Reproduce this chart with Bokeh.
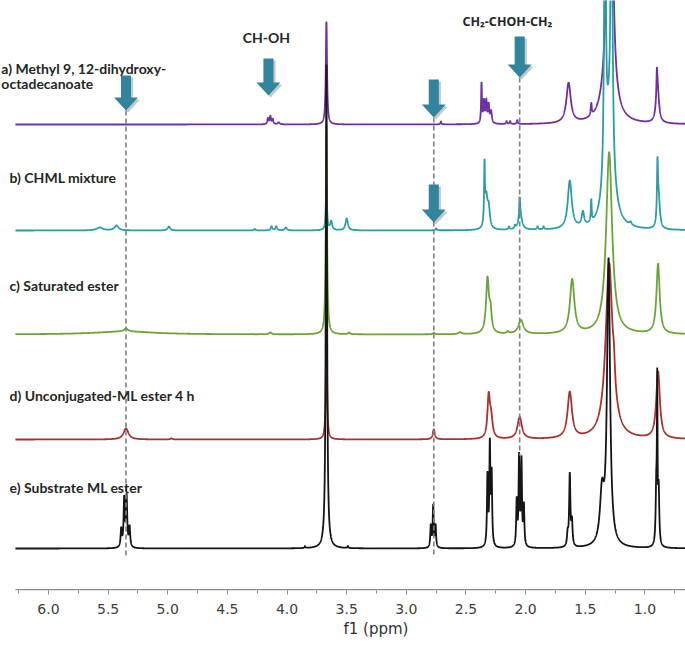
import numpy as np
from bokeh.plotting import figure
from bokeh.models import Range1d, Label, SingleIntervalTicker, NumeralTickFormatter, Title
from bokeh.embed import file_html
from bokeh.resources import INLINE

# ---------------- data (peak lists) ----------------
# a) Methyl 9,12-dihydroxy-octadecanoate (purple)
a_ppm = [4.16, 4.14, 4.12, 4.07, 3.67, 2.71, 2.37, 2.35, 2.33, 2.31, 2.29, 2.16, 2.13, 2.07, 1.64, 1.45, 1.30, 1.27, 0.90, 0.895]
a_height = [6, 8, 5, 2, 103, 3, 40, 22, 22, 18, 12, 3, 3, 4, 40, 12, 230, 60, 22, 38]
a_width = [0.006, 0.006, 0.006, 0.01, 0.006, 0.004, 0.004, 0.006, 0.006, 0.006, 0.008, 0.005, 0.005, 0.005, 0.022, 0.005, 0.03, 0.015, 0.004, 0.014]

# b) CHML mixture (teal)
b_ppm = [5.57, 5.43, 4.99, 4.27, 4.13, 4.09, 4.01, 3.67, 3.63, 3.50, 2.75, 2.345, 2.33, 2.31, 2.14, 2.09, 2.05, 2.045, 1.90, 1.85, 1.63, 1.52, 1.45, 1.335, 1.30, 1.28, 1.12, 0.895, 0.885]
b_height = [3, 5, 4, 1.5, 4, 4, 3, 42, 9, 12, 2, 58, 30, 20, 3, 3, 20, 14, 3, 3, 48, 14, 22, 320, 100, 330, 3, 55, 30]
b_width = [0.03, 0.02, 0.012, 0.006, 0.008, 0.008, 0.01, 0.006, 0.01, 0.012, 0.006, 0.004, 0.012, 0.012, 0.006, 0.006, 0.005, 0.018, 0.006, 0.006, 0.02, 0.012, 0.004, 0.008, 0.04, 0.008, 0.01, 0.005, 0.012]

# c) Saturated ester (green)
c_ppm = [5.36, 5.35, 4.14, 3.67, 3.48, 2.77, 2.55, 2.32, 2.295, 2.15, 2.04, 1.61, 1.30, 0.89]
c_height = [3, 3, 2, 211, 1.5, 1.5, 2, 54, 20, 2, 14, 54, 182, 70]
c_width = [0.3, 0.02, 0.01, 0.006, 0.01, 0.008, 0.015, 0.014, 0.012, 0.01, 0.025, 0.022, 0.03, 0.016]

# d) Unconjugated-ML ester 4 h (red)
d_ppm = [5.35, 4.97, 3.67, 2.77, 2.31, 2.29, 2.05, 1.63, 1.30, 1.26, 0.89]
d_height = [11, 1, 104, 10, 40, 20, 22, 46, 175, 20, 67]
d_width = [0.025, 0.01, 0.006, 0.01, 0.012, 0.015, 0.022, 0.022, 0.035, 0.01, 0.018]

# e) Substrate ML ester (black)
e_ppm = [5.39, 5.365, 5.345, 5.32, 3.85, 3.67, 3.49, 2.795, 2.775, 2.755, 2.32, 2.30, 2.285,
         2.075, 2.055, 2.035, 2.015, 1.648, 1.63, 1.612, 1.36, 1.305, 0.905, 0.897, 0.885]
e_height = [18, 48, 50, 20, 2, 485, 2, 22, 42, 22, 70, 100, 70,
            45, 88, 85, 40, 12, 72, 24, 50, 285, 55, 150, 55]
e_width = [0.006, 0.006, 0.006, 0.006, 0.004, 0.006, 0.004, 0.005, 0.005, 0.005, 0.005, 0.005, 0.005,
           0.005, 0.005, 0.005, 0.005, 0.006, 0.006, 0.006, 0.02, 0.015, 0.006, 0.003, 0.006]

labels = ["a) Methyl 9, 12-dihydroxy-", "b) CHML mixture", "c) Saturated ester",
          "d) Unconjugated-ML ester 4 h", "e) Substrate ML ester"]

# marked signals (arrows) and guide lines
arrow_ppm = [5.35, 4.156, 2.77, 2.05, 2.77]
guide_ppm = [5.35, 2.77, 2.05]

# ---------------- layout / style ----------------
X_START, X_END = 6.402, 0.66     # visible axis window
SPEC_START = 6.277               # spectra (and axis line) start here
offsets = [466, 360, 256, 151, 42]
colors = ["#7030A0", "#2A9EA0", "#6BA539", "#A83232", "#151515"]
arrow_tip = [480, 495, 473, 513, 368]
arrow_shaft = [22, 24, 25, 28, 25]
guide_top = [480, 473, 513]
guide_bottom = [35, 35, 135]

p = figure(width=685, height=648, x_range=Range1d(X_START, X_END), y_range=Range1d(0, 590),
           output_backend="svg", toolbar_location=None,
           min_border_left=0, min_border_right=0, min_border_top=0, min_border_bottom=58)
p.outline_line_color = None
p.grid.visible = False
p.yaxis.visible = False
p.background_fill_color = "white"
p.border_fill_color = "white"

x = np.linspace(SPEC_START, X_END, 6000)


def spectrum(pos, hts, wds):
    y = np.zeros_like(x)
    for p0, h, w in zip(pos, hts, wds):
        y += h * w * w / ((x - p0) ** 2 + w * w)
    return y


peaklists = [(a_ppm, a_height, a_width), (b_ppm, b_height, b_width), (c_ppm, c_height, c_width),
             (d_ppm, d_height, d_width), (e_ppm, e_height, e_width)]
for (pos, hts, wds), off, col in zip(peaklists, offsets, colors):
    p.line(x, spectrum(pos, hts, wds) + off, line_color=col, line_width=1.8)

# dashed guides
for gx, gt, gb in zip(guide_ppm, guide_top, guide_bottom):
    p.line([gx, gx], [gt, gb], line_color="#808080", line_width=1.6, line_dash="5 3")

# arrows
SW, HW, HL = 0.042, 0.1, 13
for ax, tip, sl in zip(arrow_ppm, arrow_tip, arrow_shaft):
    for dx, dy, col, alpha in [(-0.018, -2, "#000000", 0.22), (0, 0, "#31849B", 1.0)]:
        cx = ax + dx
        p.quad(left=[cx + SW], right=[cx - SW], bottom=[tip + HL + dy - 0.5], top=[tip + HL + sl + dy],
               fill_color=col, fill_alpha=alpha, line_color=None)
        p.patch([cx + HW, cx - HW, cx], [tip + HL + dy, tip + HL + dy, tip + dy],
                fill_color=col, fill_alpha=alpha, line_color=None)

# texts
FONT = "Lato"
FS = "14px"
txt_pos = [(6.395, 522), (6.326, 413), (6.326, 305), (6.326, 195), (6.326, 103)]
for t, (tx, ty) in zip(labels, txt_pos):
    p.add_layout(Label(x=tx, y=ty, text=t, text_font=FONT, text_font_style="bold", text_font_size=FS,
                       text_color="#262626", text_align="left", text_baseline="middle"))
p.add_layout(Label(x=6.395, y=507, text="octadecanoate", text_font=FONT, text_font_style="bold",
                   text_font_size=FS, text_color="#262626", text_align="left", text_baseline="middle"))
p.add_layout(Label(x=4.173, y=553, text="CH-OH", text_font=FONT, text_font_style="bold",
                   text_font_size=FS, text_color="#262626", text_align="center", text_baseline="middle"))
p.add_layout(Label(x=2.153, y=569, text="CH\u2082-CHOH-CH\u2082", text_font="Noto Sans", text_font_style="bold",
                   text_font_size="12.5px", text_color="#262626", text_align="center", text_baseline="middle"))

# x axis (axis line drawn only under the spectra, as in the original)
ax0 = p.xaxis[0]
ax0.ticker = SingleIntervalTicker(interval=0.5, num_minor_ticks=2)
ax0.formatter = NumeralTickFormatter(format="0.0")
ax0.axis_line_color = None
ax0.major_tick_line_color = "#8c8c8c"
ax0.minor_tick_line_color = "#8c8c8c"
ax0.major_tick_in = 0
ax0.major_tick_out = 4
ax0.minor_tick_in = 0
ax0.minor_tick_out = 3
ax0.major_label_standoff = 9
ax0.major_label_text_font = "DejaVu Sans"
ax0.major_label_text_font_size = "14px"
ax0.major_label_text_color = "#404040"
p.line([SPEC_START, X_END], [0.75, 0.75], line_color="#8c8c8c", line_width=1.5)

p.add_layout(Title(text="f1 (ppm)", align="left", offset=343, text_font="DejaVu Sans",
                   text_font_size="15px", text_font_style="normal", text_color="#333333",
                   standoff=3), "below")

open("out.html", "w").write(file_html(p, INLINE))
